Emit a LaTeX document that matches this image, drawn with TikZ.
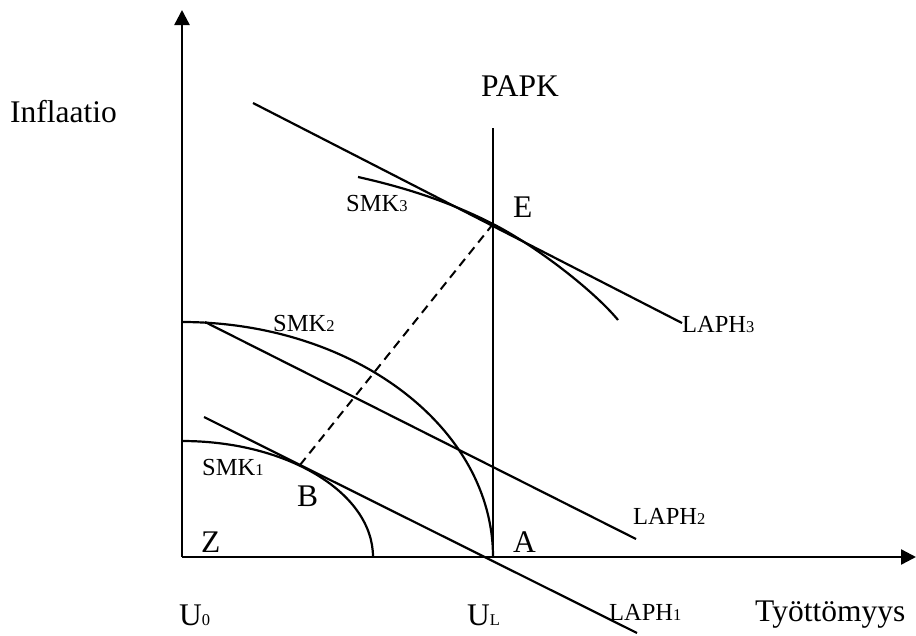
\documentclass[tikz,border=0pt]{standalone}
\usepackage{fontspec}
\setmainfont{Liberation Serif}
\usetikzlibrary{arrows.meta}
\begin{document}
\begin{tikzpicture}[x=1pt,y=-1pt,
  ln/.style={line width=2.2pt},
  axis/.style={line width=2.4pt,-{Triangle[length=15pt,width=15pt]}},
  big/.style={anchor=base west,inner sep=0pt,font=\fontsize{31.5}{34}\selectfont},
  lab/.style={anchor=base west,inner sep=0pt,font=\fontsize{24.5}{28}\selectfont},
  dsh/.style={line width=2pt,dash pattern=on 9pt off 6pt}]
\newcommand{\sbs}[1]{{\fontsize{16.5}{18}\selectfont #1}}
\useasboundingbox (0,0) rectangle (916,635);
% axes
\coordinate (O) at (182,557);
\coordinate (Ytop) at (182,10);
\coordinate (Xend) at (916,557);
\draw[axis] (O) -- (Ytop);
\draw[axis] (O) -- (Xend);
% PAPK vertical
\coordinate (Pt) at (493,128);
\coordinate (A0) at (493,557);
\draw[ln] (A0) -- (Pt);
% LAPH lines
\coordinate (L3a) at (253,103); \coordinate (L3b) at (682,323);
\coordinate (L2a) at (205,322); \coordinate (L2b) at (636,539);
\coordinate (L1a) at (204,417); \coordinate (L1b) at (637,633);
\draw[ln] (L3a) -- (L3b);
\draw[ln] (L2a) -- (L2b);
\draw[ln] (L1a) -- (L1b);
% SMK curves
\draw[ln] (182,441) arc[start angle=-90,end angle=0,x radius=191,y radius=116];
\draw[ln] (182,322) arc[start angle=-90,end angle=0,x radius=311,y radius=235];
\coordinate (E) at (493,224);
\coordinate (S3a) at (358,177);
\coordinate (S3b) at (618,320);
\draw[ln] (S3a) .. controls (403,187) and (448,201) .. (E)
  .. controls (538,247) and (595,292) .. (S3b);
% dashed
\coordinate (B) at (300,465);
\draw[dsh] (B) -- (E);
% labels
\node[big] (tInf) at (10,122) {Inflaatio};
\node[big] (tPAPK) at (481,96) {PAPK};
\node[lab] (tS3) at (346,211) {SMK\sbs{3}};
\node[big] (tE) at (513,217) {E};
\node[lab] (tS2) at (273,331) {SMK\sbs{2}};
\node[lab] (tL3) at (682,332) {LAPH\sbs{3}};
\node[lab] (tS1) at (202,475) {SMK\sbs{1}};
\node[big] (tB) at (297,506) {B};
\node[lab] (tL2) at (633,524) {LAPH\sbs{2}};
\node[big] (tZ) at (201,552) {Z};
\node[big] (tA) at (513,552) {A};
\node[big] (tU0) at (179,625) {U\sbs{0}};
\node[big] (tUL) at (467,625) {U\sbs{L}};
\node[lab] (tL1) at (609,620) {LAPH\sbs{1}};
\node[big] (tT) at (755,621) {Työttömyys};
\end{tikzpicture}
\end{document}
